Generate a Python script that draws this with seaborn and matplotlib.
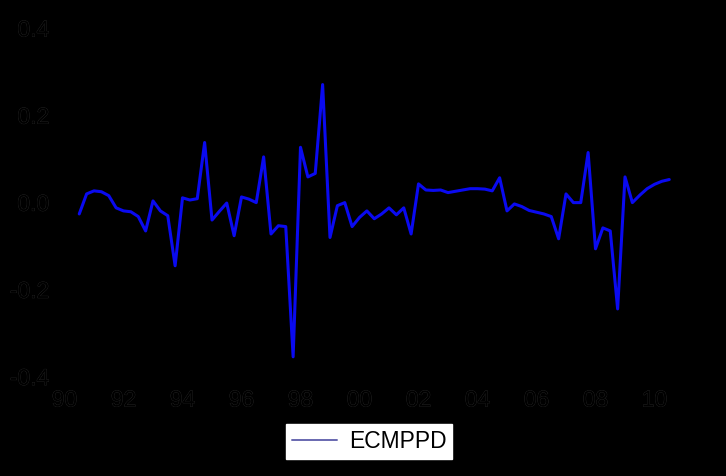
import numpy as np
import pandas as pd
import matplotlib
matplotlib.use("Agg")
import matplotlib.pyplot as plt
import matplotlib.patheffects as pe
from matplotlib.lines import Line2D
import seaborn as sns

# ---- data (quarterly, 1990Q3 .. 2010Q3) ----
series_name = "ECMPPD"
start_quarter = "1990Q3"
ecmppd = [
    -0.028, 0.018, 0.025, 0.023, 0.014, -0.014, -0.021, -0.023, -0.034, -0.067,
    0.002, -0.021, -0.032, -0.147, 0.009, 0.004, 0.007, 0.136, -0.042, -0.022,
    -0.003, -0.078, 0.011, 0.006, -0.002, 0.103, -0.074, -0.055, -0.057, -0.356,
    0.125, 0.057, 0.065, 0.269, -0.082, -0.009, -0.002, -0.057, -0.036, -0.021,
    -0.039, -0.028, -0.014, -0.030, -0.014, -0.074, 0.041, 0.027, 0.026, 0.027,
    0.021, 0.024, 0.027, 0.030, 0.030, 0.029, 0.025, 0.055, -0.021, -0.005,
    -0.011, -0.020, -0.024, -0.028, -0.034, -0.085, 0.018, -0.002, -0.002, 0.113,
    -0.108, -0.060, -0.067, -0.246, 0.057, -0.002, 0.015, 0.030, 0.040, 0.047,
    0.051,
]
x_ticks = [1990, 1992, 1994, 1996, 1998, 2000, 2002, 2004, 2006, 2008, 2010]
x_tick_labels = ["90", "92", "94", "96", "98", "00", "02", "04", "06", "08", "10"]
y_ticks = [-0.4, -0.2, 0.0, 0.2, 0.4]
y_tick_labels = ["-0.4", "-0.2", "0.0", "0.2", "0.4"]

periods = pd.period_range(start=start_quarter, periods=len(ecmppd), freq="Q")
years = periods.year + (periods.quarter - 1) / 4.0
df = pd.DataFrame({"year": np.asarray(years, dtype=float), series_name: ecmppd})

# ---- style ----
sns.set_style("white")
plt.rcParams["font.family"] = ["Liberation Sans", "DejaVu Sans"]
plt.rcParams["axes.unicode_minus"] = False
halo = [pe.withStroke(linewidth=0.5, foreground="#2a2a2a")]
plt.rcParams["path.effects"] = halo

fig = plt.figure(figsize=(7.26, 4.76), dpi=100, facecolor="black")
fig.patch.set_path_effects([])
W, H = 726, 476
left, right = 64.5 / W, 684 / W
bottom, top = (H - 376) / H, (H - 27.5) / H
ax = fig.add_axes([left, bottom, right - left, top - bottom])
ax.set_facecolor("black")
ax.patch.set_path_effects([])

sns.lineplot(data=df, x="year", y=series_name, ax=ax, color="#0a0af0",
             linewidth=2.2, legend=False)

ax.set_xlim(1990, 2011)
ax.set_ylim(-0.4, 0.4)
ax.set_xticks(x_ticks, x_tick_labels)
ax.set_yticks(y_ticks, y_tick_labels)
ax.tick_params(axis="both", length=0, labelsize=16.5, colors="black")
ax.tick_params(axis="y", pad=11)
ax.tick_params(axis="x", pad=9)
ax.set_xlabel("")
ax.set_ylabel("")
for s in ax.spines.values():
    s.set_visible(False)
    s.set_path_effects([])

for ln in ax.get_lines():
    ln.set_path_effects([])

handle = Line2D([], [], color="#6868b0", linewidth=1.4)
leg = fig.legend(handles=[handle], labels=[series_name], loc="center",
                 bbox_to_anchor=(369 / W, 34.5 / H), frameon=True,
                 fontsize=16.5, handlelength=2.0, handletextpad=0.5,
                 borderpad=0.25, borderaxespad=0, fancybox=False)
leg.get_frame().set_facecolor("white")
leg.get_frame().set_edgecolor("white")
leg.get_frame().set_alpha(1)
leg.get_frame().set_path_effects([])
for t in leg.get_texts():
    t.set_color("black")
    t.set_path_effects([])
for l in leg.get_lines():
    l.set_path_effects([])

fig.savefig("out.png", dpi=100, facecolor="black")
